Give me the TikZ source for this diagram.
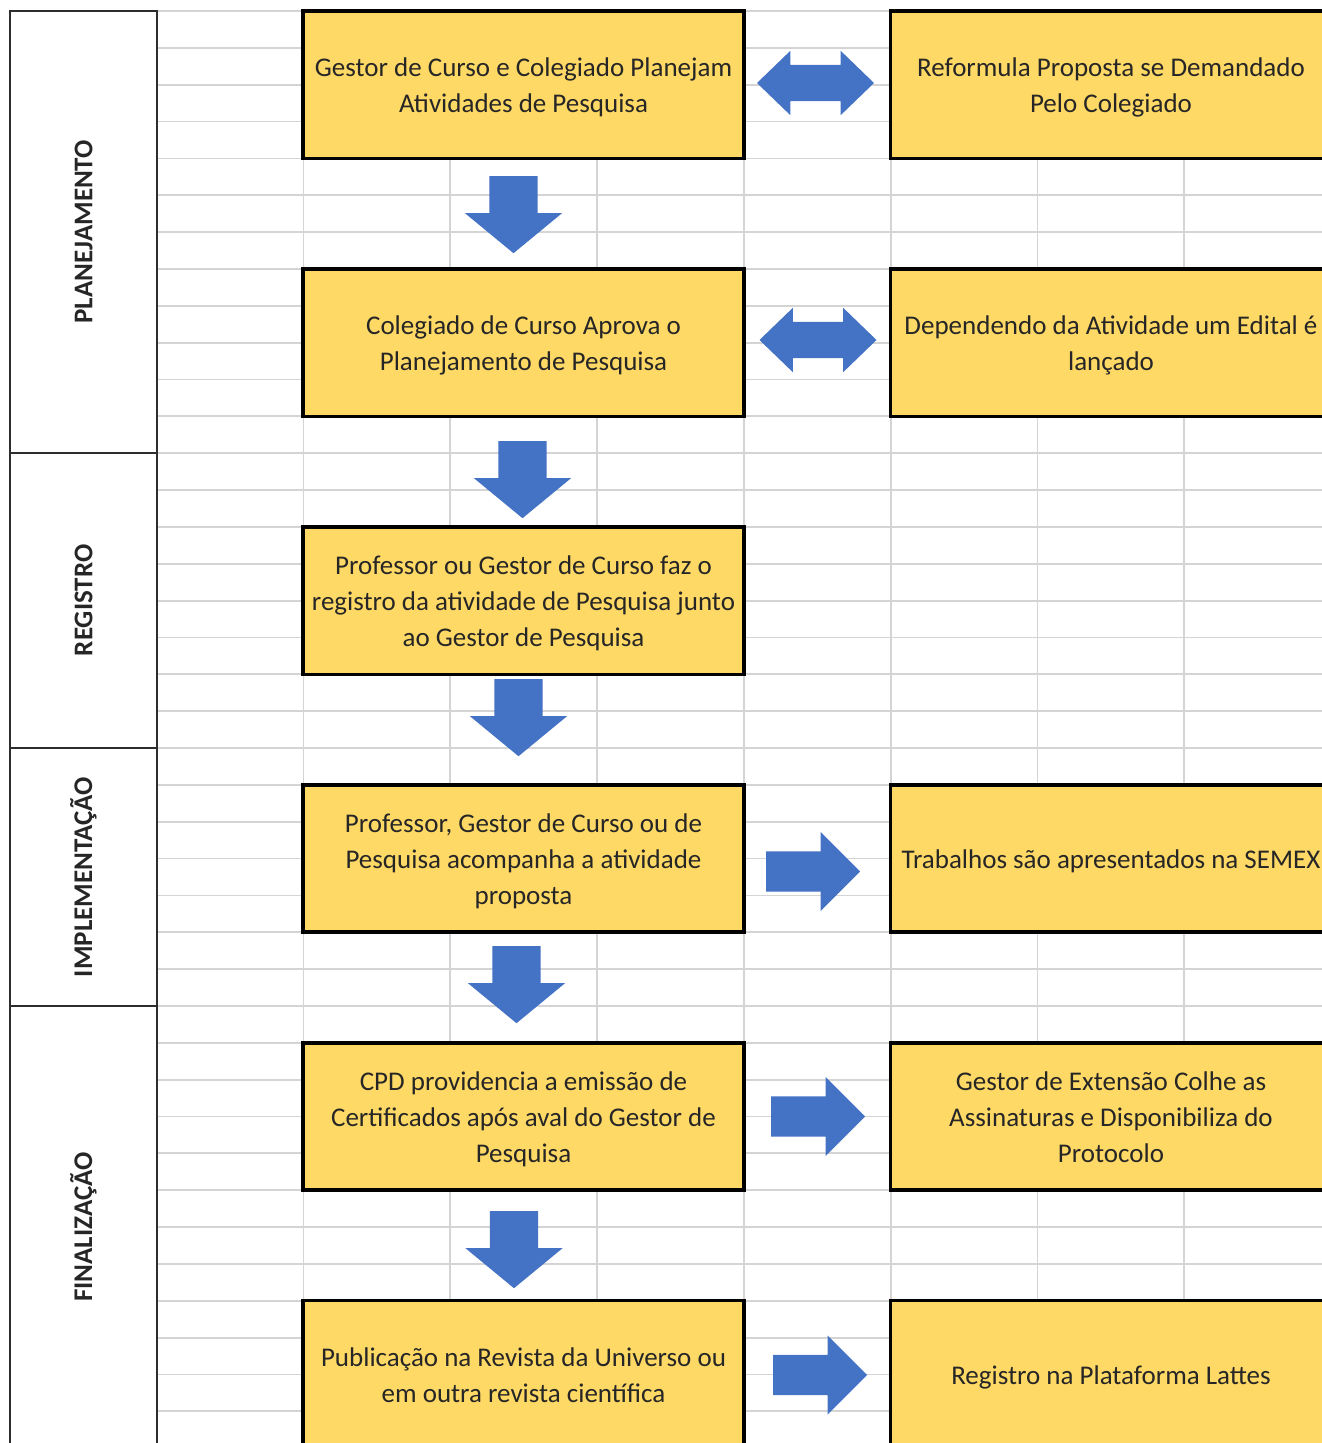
\documentclass[tikz,border=0pt]{standalone}
\usepackage{fontspec}
\setmainfont{Carlito}
\usetikzlibrary{shapes.arrows}
\definecolor{boxgold}{RGB}{255,217,102}
\definecolor{arrowblue}{RGB}{68,114,196}
\definecolor{cellgray}{RGB}{212,212,212}
\definecolor{inkgray}{RGB}{38,38,38}
\definecolor{lanegray}{RGB}{45,45,45}
\newcommand{\cellstrut}{\rule[-6pt]{0pt}{31.6pt}}

\begin{document}
\begin{tikzpicture}[x=1pt,y=-1pt,
  stepbox/.style={draw=black,line width=3.5pt,fill=boxgold,minimum width=441pt,minimum height=147.4pt,inner sep=0pt,align=center,text=inkgray,font=\fontsize{27}{36}\selectfont},
  lanebox/.style={draw=lanegray,line width=2pt,minimum width=147pt,inner sep=0pt},
  lanetext/.style={rotate=90,font=\fontsize{27}{32}\selectfont\bfseries,text=inkgray},
  downarr/.style={single arrow,shape border rotate=270,fill=arrowblue,inner sep=24pt,single arrow head extend=24.5pt,single arrow tip angle=101,minimum height=77pt,anchor=tail},
  rightarr/.style={single arrow,fill=arrowblue,inner sep=20pt,single arrow head extend=19.5pt,single arrow tip angle=90,minimum height=94pt,anchor=tail},
  botharr/.style={double arrow,fill=arrowblue,inner sep=18pt,double arrow head extend=14pt,double arrow tip angle=88,minimum height=117pt}]

\useasboundingbox (0,0) rectangle (1322,1443);
\clip (0,0) rectangle (1322,1443);

\foreach \r in {0,...,39}
  \draw[cellgray,line width=1.8pt] (157,{11+\r*36.85}) -- (1322,{11+\r*36.85});
\foreach \c in {0,...,6}
  \draw[cellgray,line width=1.8pt] ({303.5+\c*146.8},11) -- ({303.5+\c*146.8},1443);

\node[lanebox,minimum height=441.6pt] (planej) at (83.5,231.8) {};
\node[lanebox,minimum height=295.4pt] (regist) at (83.5,600.3) {};
\node[lanebox,minimum height=258pt] (implem) at (83.5,877) {};
\node[lanebox,minimum height=442pt] (final) at (83.5,1227) {};
\node[lanetext] (planejtxt) at (planej) {PLANEJAMENTO};
\node[lanetext] (registtxt) at (regist) {REGISTRO};
\node[lanetext] (implemtxt) at (implem) {IMPLEMENTAÇÃO};
\node[lanetext] (finaltxt) at (final) {FINALIZAÇÃO};

\node[stepbox] (gestor) at (523.5,84.7) {\cellstrut Gestor de Curso e Colegiado Planejam\\Atividades de Pesquisa\cellstrut};
\node[stepbox] (reformula) at (1111,84.7) {\cellstrut Reformula Proposta se Demandado\\Pelo Colegiado\cellstrut};
\node[stepbox] (aprova) at (523.5,342.6) {\cellstrut Colegiado de Curso Aprova o\\Planejamento de Pesquisa\cellstrut};
\node[stepbox] (edital) at (1111,342.6) {\cellstrut Dependendo da Atividade um Edital é\\lançado\cellstrut};
\node[stepbox] (registro) at (523.5,600.6) {\cellstrut Professor ou Gestor de Curso faz o\\registro da atividade de Pesquisa junto\\ao Gestor de Pesquisa\cellstrut};
\node[stepbox] (acompanha) at (523.5,858.5) {\cellstrut Professor, Gestor de Curso ou de\\Pesquisa acompanha a atividade\\proposta\cellstrut};
\node[stepbox] (semex) at (1111,858.5) {\cellstrut Trabalhos são apresentados na SEMEX\cellstrut};
\node[stepbox] (cpd) at (523.5,1116.5) {\cellstrut CPD providencia a emissão de\\Certificados após aval do Gestor de\\Pesquisa\cellstrut};
\node[stepbox] (extensao) at (1111,1116.5) {\cellstrut Gestor de Extensão Colhe as\\Assinaturas e Disponibiliza do\\Protocolo\cellstrut};
\node[stepbox] (publica) at (523.5,1374.4) {\cellstrut Publicação na Revista da Universo ou\\em outra revista científica\cellstrut};
\node[stepbox] (lattes) at (1111,1374.4) {\cellstrut Registro na Plataforma Lattes\cellstrut};

\node[downarr] (gestor-aprova) at (513.5,176) {};
\node[downarr] (aprova-registro) at (522.5,441) {};
\node[downarr] (registro-acomp) at (518.5,679) {};
\node[downarr] (acomp-cpd) at (516.5,946) {};
\node[downarr] (cpd-publica) at (514,1211) {};

\node[botharr] (gestor-reform) at (815.5,83) {};
\node[botharr] (aprova-edital) at (818,340) {};

\node[rightarr] (acomp-semex) at (766,871.5) {};
\node[rightarr] (cpd-extensao) at (771,1116.5) {};
\node[rightarr] (publica-lattes) at (773,1375) {};

\end{tikzpicture}
\end{document}
